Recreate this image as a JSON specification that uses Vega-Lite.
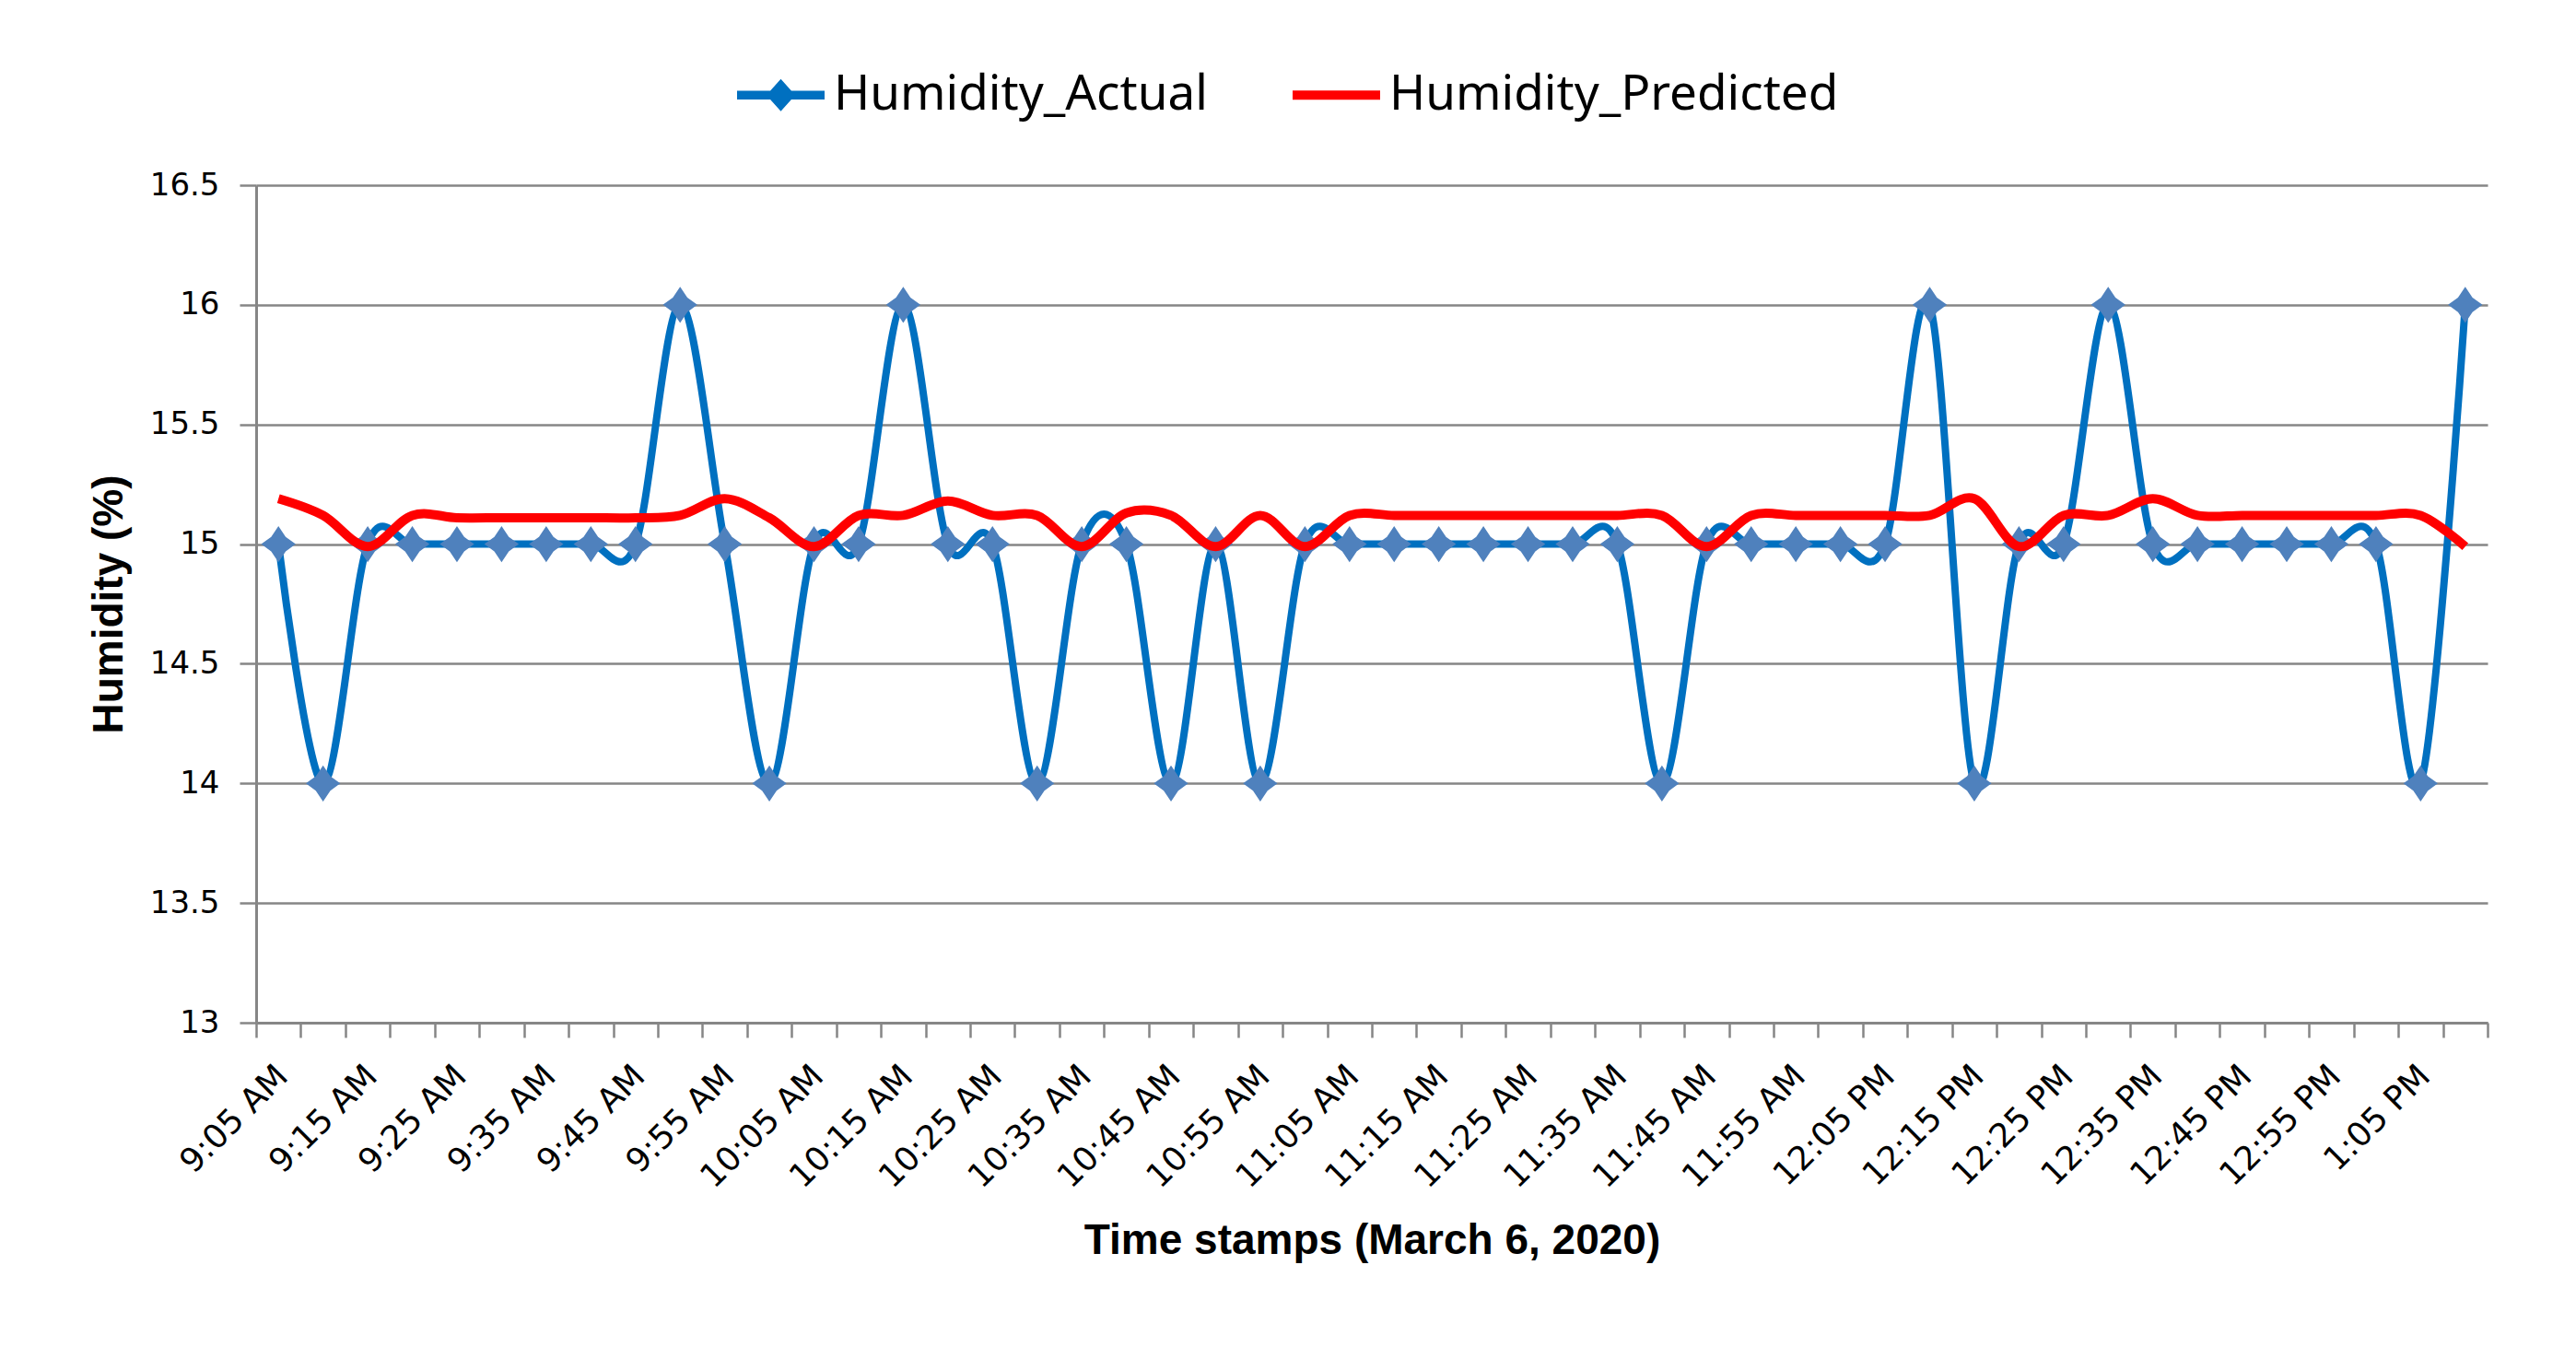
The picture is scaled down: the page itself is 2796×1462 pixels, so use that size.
{
  "$schema": "https://vega.github.io/schema/vega-lite/v6.json",
  "width": 2422,
  "height": 909,
  "autosize": {"type": "none"},
  "padding": {"left": 278, "top": 201, "right": 96, "bottom": 352},
  "background": "white",
  "config": {"view": {"stroke": null}},
  "data": {"values": [
    {"t": "9:05 AM", "Humidity_Actual": 15, "Humidity_Predicted": 15.19},
    {"t": "9:10 AM", "Humidity_Actual": 14, "Humidity_Predicted": 15.12},
    {"t": "9:15 AM", "Humidity_Actual": 15, "Humidity_Predicted": 14.99},
    {"t": "9:20 AM", "Humidity_Actual": 15, "Humidity_Predicted": 15.12},
    {"t": "9:25 AM", "Humidity_Actual": 15, "Humidity_Predicted": 15.11},
    {"t": "9:30 AM", "Humidity_Actual": 15, "Humidity_Predicted": 15.11},
    {"t": "9:35 AM", "Humidity_Actual": 15, "Humidity_Predicted": 15.11},
    {"t": "9:40 AM", "Humidity_Actual": 15, "Humidity_Predicted": 15.11},
    {"t": "9:45 AM", "Humidity_Actual": 15, "Humidity_Predicted": 15.11},
    {"t": "9:50 AM", "Humidity_Actual": 16, "Humidity_Predicted": 15.12},
    {"t": "9:55 AM", "Humidity_Actual": 15, "Humidity_Predicted": 15.19},
    {"t": "10:00 AM", "Humidity_Actual": 14, "Humidity_Predicted": 15.11},
    {"t": "10:05 AM", "Humidity_Actual": 15, "Humidity_Predicted": 14.99},
    {"t": "10:10 AM", "Humidity_Actual": 15, "Humidity_Predicted": 15.12},
    {"t": "10:15 AM", "Humidity_Actual": 16, "Humidity_Predicted": 15.12},
    {"t": "10:20 AM", "Humidity_Actual": 15, "Humidity_Predicted": 15.18},
    {"t": "10:25 AM", "Humidity_Actual": 15, "Humidity_Predicted": 15.12},
    {"t": "10:30 AM", "Humidity_Actual": 14, "Humidity_Predicted": 15.12},
    {"t": "10:35 AM", "Humidity_Actual": 15, "Humidity_Predicted": 14.99},
    {"t": "10:40 AM", "Humidity_Actual": 15, "Humidity_Predicted": 15.13},
    {"t": "10:45 AM", "Humidity_Actual": 14, "Humidity_Predicted": 15.12},
    {"t": "10:50 AM", "Humidity_Actual": 15, "Humidity_Predicted": 14.99},
    {"t": "10:55 AM", "Humidity_Actual": 14, "Humidity_Predicted": 15.12},
    {"t": "11:00 AM", "Humidity_Actual": 15, "Humidity_Predicted": 14.99},
    {"t": "11:05 AM", "Humidity_Actual": 15, "Humidity_Predicted": 15.12},
    {"t": "11:10 AM", "Humidity_Actual": 15, "Humidity_Predicted": 15.12},
    {"t": "11:15 AM", "Humidity_Actual": 15, "Humidity_Predicted": 15.12},
    {"t": "11:20 AM", "Humidity_Actual": 15, "Humidity_Predicted": 15.12},
    {"t": "11:25 AM", "Humidity_Actual": 15, "Humidity_Predicted": 15.12},
    {"t": "11:30 AM", "Humidity_Actual": 15, "Humidity_Predicted": 15.12},
    {"t": "11:35 AM", "Humidity_Actual": 15, "Humidity_Predicted": 15.12},
    {"t": "11:40 AM", "Humidity_Actual": 14, "Humidity_Predicted": 15.12},
    {"t": "11:45 AM", "Humidity_Actual": 15, "Humidity_Predicted": 14.99},
    {"t": "11:50 AM", "Humidity_Actual": 15, "Humidity_Predicted": 15.12},
    {"t": "11:55 AM", "Humidity_Actual": 15, "Humidity_Predicted": 15.12},
    {"t": "12:00 PM", "Humidity_Actual": 15, "Humidity_Predicted": 15.12},
    {"t": "12:05 PM", "Humidity_Actual": 15, "Humidity_Predicted": 15.12},
    {"t": "12:10 PM", "Humidity_Actual": 16, "Humidity_Predicted": 15.12},
    {"t": "12:15 PM", "Humidity_Actual": 14, "Humidity_Predicted": 15.19},
    {"t": "12:20 PM", "Humidity_Actual": 15, "Humidity_Predicted": 14.99},
    {"t": "12:25 PM", "Humidity_Actual": 15, "Humidity_Predicted": 15.12},
    {"t": "12:30 PM", "Humidity_Actual": 16, "Humidity_Predicted": 15.12},
    {"t": "12:35 PM", "Humidity_Actual": 15, "Humidity_Predicted": 15.19},
    {"t": "12:40 PM", "Humidity_Actual": 15, "Humidity_Predicted": 15.12},
    {"t": "12:45 PM", "Humidity_Actual": 15, "Humidity_Predicted": 15.12},
    {"t": "12:50 PM", "Humidity_Actual": 15, "Humidity_Predicted": 15.12},
    {"t": "12:55 PM", "Humidity_Actual": 15, "Humidity_Predicted": 15.12},
    {"t": "1:00 PM", "Humidity_Actual": 15, "Humidity_Predicted": 15.12},
    {"t": "1:05 PM", "Humidity_Actual": 14, "Humidity_Predicted": 15.12},
    {"t": "1:10 PM", "Humidity_Actual": 16, "Humidity_Predicted": 14.99}
  ]},
  "transform": [{"fold": ["Humidity_Actual", "Humidity_Predicted"], "as": ["series", "value"]}],
  "encoding": {
    "x": {
      "field": "t", "type": "ordinal", "sort": null, "bandPosition": 0.5,
      "scale": {"type": "band", "paddingInner": 0, "paddingOuter": 0},
      "title": "Time stamps (March 6, 2020)",
      "axis": {
        "tickBand": "extent",
        "labelAngle": -45, "labelAlign": "right", "labelBaseline": "top",
        "labelOffset": -8, "labelPadding": 24, "labelOverlap": false, "labelLimit": 0,
        "labelExpr": "substring(datum.label, length(datum.label)-4, length(datum.label)-3) == '5' ? datum.label : ''",
        "labelFont": "DejaVu Sans", "labelFontSize": 36, "labelColor": "#000000",
        "tickSize": 16, "tickColor": "#868686", "tickWidth": 2.5,
        "domainColor": "#868686", "domainWidth": 3, "grid": false,
        "titleFont": "Liberation Sans", "titleFontWeight": "bold", "titleFontSize": 46, "titleColor": "#000000",
        "titleX": 1211, "titleY": 250, "titleAlign": "center", "titleBaseline": "alphabetic"
      }
    },
    "y": {
      "field": "value", "type": "quantitative",
      "scale": {"domain": [13, 16.5], "nice": false, "zero": false},
      "title": "Humidity (%)",
      "axis": {
        "values": [13, 13.5, 14, 14.5, 15, 15.5, 16, 16.5], "format": "~g",
        "grid": true, "gridColor": "#868686", "gridWidth": 2.5,
        "domainColor": "#868686", "domainWidth": 3,
        "tickSize": 18, "tickColor": "#868686", "tickWidth": 2.5,
        "labelPadding": 22, "labelFont": "DejaVu Sans", "labelFontSize": 34, "labelColor": "#000000",
        "titleFont": "Liberation Sans", "titleFontWeight": "bold", "titleFontSize": 46, "titleColor": "#000000",
        "titleAngle": 270, "titleX": -146, "titleY": 454.5, "titleAlign": "center", "titleBaseline": "alphabetic"
      }
    },
    "color": {
      "field": "series", "type": "nominal",
      "scale": {"domain": ["Humidity_Actual", "Humidity_Predicted"], "range": ["#0070C0", "#FF0000"]},
      "legend": {
        "orient": "none", "legendX": 522, "legendY": -145.5, "direction": "horizontal", "title": null,
        "labelFont": "Noto Sans", "labelFontSize": 53, "labelColor": "#000000", "labelOffset": 10, "labelLimit": 0,
        "columnPadding": 92, "padding": 0, "symbolSize": 9025,
        "encode": {"symbols": {"update": {
          "shape": {"signal": "datum.value === 'Humidity_Actual' ? 'M-1,-0.1L1,-0.1L1,0.1L-1,0.1ZM0,-0.37L0.33,0L0,0.37L-0.33,0Z' : 'M-1,-0.105L1,-0.105L1,0.105L-1,0.105Z'"},
          "fill": {"signal": "datum.value === 'Humidity_Actual' ? '#0070C0' : '#FF0000'"},
          "fillOpacity": {"value": 1},
          "stroke": {"value": "transparent"},
          "strokeWidth": {"value": 0},
          "size": {"value": 9025}
        }}}
      }
    }
  },
  "layer": [
    {
      "transform": [{"filter": "datum.series === 'Humidity_Actual'"}],
      "mark": {"type": "line", "interpolate": "cardinal", "strokeWidth": 8}
    },
    {
      "transform": [{"filter": "datum.series === 'Humidity_Actual'"}],
      "mark": {"type": "point", "filled": true, "opacity": 1, "size": 1400,
               "shape": "M0,-1.05L0.42,-0.42L1,0L0.42,0.42L0,1.05L-0.42,0.42L-1,0L-0.42,-0.42Z"},
      "encoding": {"color": {"value": "#4F81BD"}}
    },
    {
      "transform": [{"filter": "datum.series === 'Humidity_Predicted'"}],
      "mark": {"type": "line", "interpolate": "cardinal", "strokeWidth": 10}
    }
  ]
}
